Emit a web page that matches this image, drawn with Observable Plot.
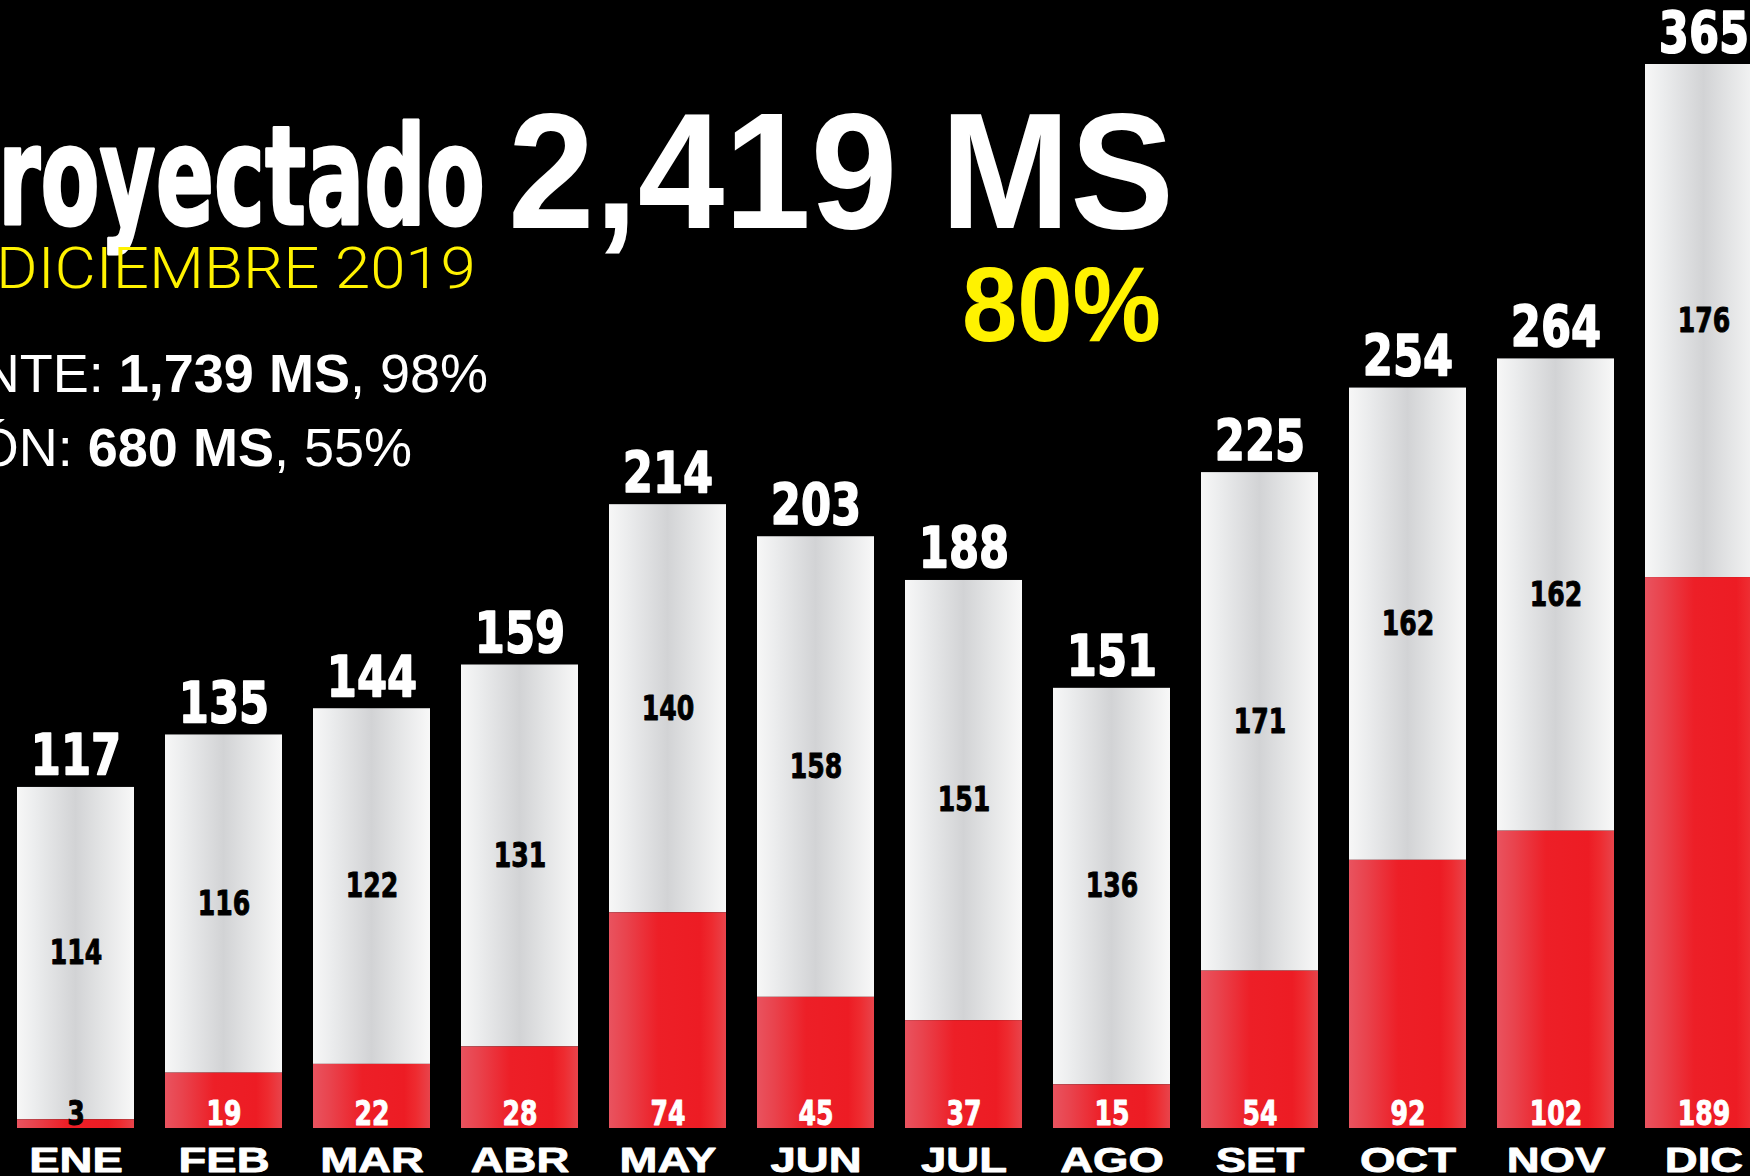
<!DOCTYPE html>
<html><head><meta charset="utf-8">
<script src="https://cdn.jsdelivr.net/npm/d3@7"></script>
<script src="https://cdn.jsdelivr.net/npm/@observablehq/plot@0.6"></script>
<style>
html,body{margin:0;padding:0;background:#000;overflow:hidden}
#wrap{position:relative;width:1750px;height:1176px;overflow:hidden;background:#000}
#titles{position:absolute;left:0;top:0;pointer-events:none}
</style></head><body><div id="wrap"></div>
<script>
// ---- data ----
const months = ["ENE","FEB","MAR","ABR","MAY","JUN","JUL","AGO","SET","OCT","NOV","DIC"];
const totals = [117,135,144,159,214,203,188,151,225,254,264,365];
const whiteVals = [114,116,122,131,140,158,151,136,171,162,162,176];
const redVals = [3,19,22,28,74,45,37,15,54,92,102,189];

const titleWord = "royectado";
const titleTotal = "2,419 MS";
const subtitle = "DICIEMBRE 2019";
const titlePct = "80%";
const line1 = [["NTE: ", false], ["1,739 MS", true], [", 98%", false]];
const line2 = [["ÓN: ", false], ["680 MS", true], [", 55%", false]];

const data = months.map((m, i) => ({month: m, total: totals[i], white: whiteVals[i], red: redVals[i]}));

const labelFont = "DejaVu Sans";
const chart = Plot.plot({
  width: 1750, height: 1176,
  marginLeft: 0, marginRight: 0, marginTop: 0, marginBottom: 0,
  style: {background: "#000", overflow: "hidden"},
  x: {domain: months, range: [0, 1778], paddingInner: 0.2105, paddingOuter: 0.1053, axis: null},
  y: {domain: [0, 365], range: [1128, 64], axis: null},
  color: {type: "identity"},
  marks: [
    Plot.barY(data, {x: "month", y1: "red", y2: "total", fill: "url(#gw)"}),
    Plot.barY(data, {x: "month", y1: 0, y2: "red", fill: "url(#gr)"}),
    Plot.text(data, {x: "month", y: "total", text: "total", lineAnchor: "bottom", dy: -12,
      fill: "white", stroke: "white", strokeWidth: 1.6,
      fontSize: 57, fontWeight: "bold", fontFamily: labelFont}),
    Plot.text(data, {x: "month", y: d => d.red + d.white / 2, text: "white",
      fill: "black", stroke: "black", strokeWidth: 1,
      fontSize: 34, fontWeight: "bold", fontFamily: labelFont}),
    Plot.text(data, {x: "month", y: 0, text: "red", lineAnchor: "bottom", dy: -4,
      fill: d => d.red < 10 ? "black" : "white", stroke: d => d.red < 10 ? "black" : "white", strokeWidth: 1,
      fontSize: 34, fontWeight: "bold", fontFamily: labelFont}),
    Plot.text(data, {x: "month", y: 0, text: "month", lineAnchor: "top", dy: 19,
      fill: "white", stroke: "white", strokeWidth: 0.8,
      fontSize: 35, fontWeight: "bold", fontFamily: "Liberation Sans"})
  ]
});
document.getElementById("wrap").appendChild(chart);

// gradients
const defs = d3.select(chart).insert("defs", ":first-child");
const gw = defs.append("linearGradient").attr("id", "gw").attr("x1", 0).attr("x2", 1).attr("y1", 0).attr("y2", 0);
[[0, "#f7f7f7"], [0.15, "#ecedee"], [0.5, "#d2d3d5"], [0.72, "#e3e4e5"], [1, "#f8f8f8"]]
  .forEach(([o, c]) => gw.append("stop").attr("offset", o).attr("stop-color", c));
const gr = defs.append("linearGradient").attr("id", "gr").attr("x1", 0).attr("x2", 1).attr("y1", 0).attr("y2", 0);
[[0, "#e9535f"], [0.15, "#e9434d"], [0.42, "#ed1f27"], [0.78, "#ed1c24"], [0.88, "#ee2b30"], [1, "#e8444b"]]
  .forEach(([o, c]) => gr.append("stop").attr("offset", o).attr("stop-color", c));

// horizontal squeeze of label fonts
function squeeze(g, sx) {
  if (!g) return;
  g.querySelectorAll("text").forEach(t => {
    const tr = t.getAttribute("transform");
    if (tr) t.setAttribute("transform", tr + ` scale(${sx},1)`);
    else {
      const x = parseFloat(t.getAttribute("x")) || 0;
      t.setAttribute("transform", `translate(${x},0) scale(${sx},1) translate(${-x},0)`);
    }
  });
}
const textGroups = chart.querySelectorAll('g[aria-label="text"]');
squeeze(textGroups[0], 0.76);
squeeze(textGroups[1], 0.74);
squeeze(textGroups[2], 0.74);
squeeze(textGroups[3], 1.3);

// titles overlay
const ov = d3.select("#wrap").append("svg").attr("id", "titles").attr("width", 1750).attr("height", 1176);
function fitted(str, x, y, w, size, family, weight, fill, sw) {
  const g = ov.append("g");
  const t = g.append("text").attr("font-family", family).attr("font-size", size)
    .attr("font-weight", weight).attr("fill", fill).text(str);
  if (sw) t.attr("stroke", fill).attr("stroke-width", sw).attr("stroke-linejoin", "round");
  const L = t.node().getComputedTextLength();
  g.attr("transform", `translate(${x},${y}) scale(${w / L},1)`);
}
fitted(titleWord, -2, 224, 487, 137, "DejaVu Sans", "bold", "#fff", 3);
fitted(titleTotal, 508, 228, 666, 165, "Liberation Sans", "bold", "#fff");
fitted(subtitle, -4, 288, 480, 58, "Roboto", 300, "#fff200");
fitted(titlePct, 962, 341, 199, 105, "Liberation Sans", "bold", "#fff200");
function mixed(parts, xr, y) {
  const t = ov.append("text").attr("x", xr).attr("y", y).attr("text-anchor", "end")
    .attr("font-family", "Liberation Sans").attr("font-size", 54).attr("fill", "#fff");
  parts.forEach(([s, b]) => t.append("tspan").attr("font-weight", b ? "bold" : "normal").text(s));
}
mixed(line1, 488, 392);
mixed(line2, 412, 466);
</script></body></html>
